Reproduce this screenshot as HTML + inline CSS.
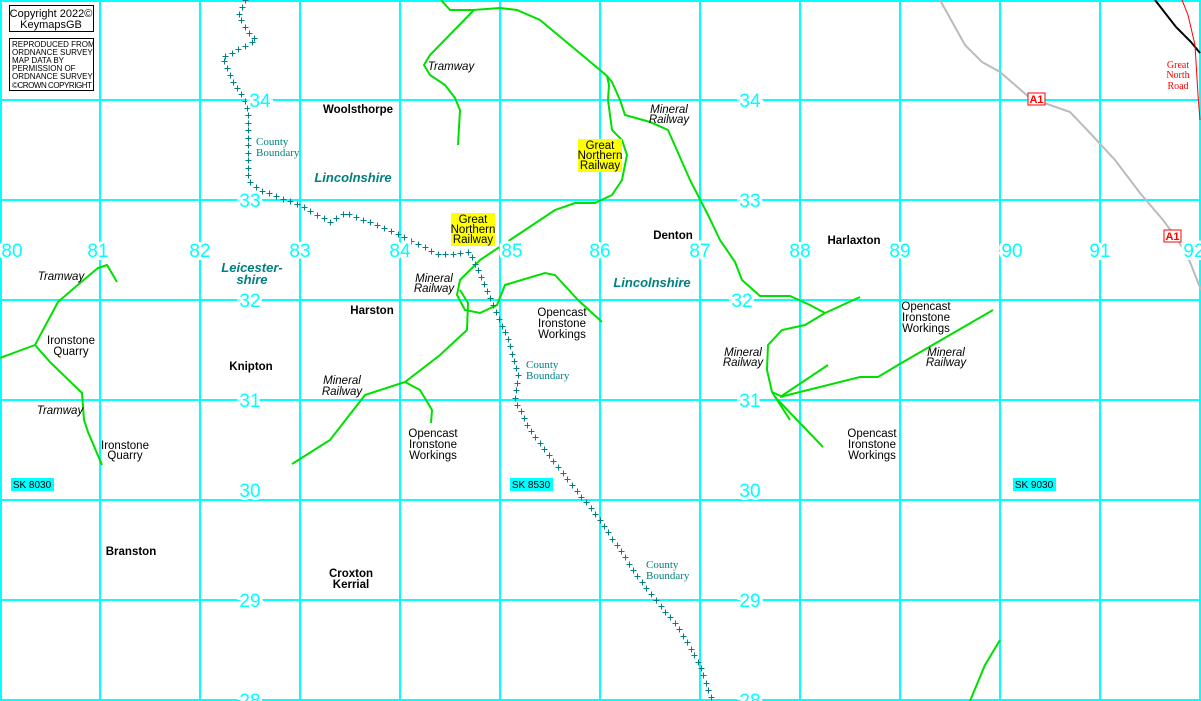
<!DOCTYPE html>
<html><head><meta charset="utf-8"><style>
html,body{margin:0;padding:0;background:#fff;overflow:hidden}
svg{display:block}
.n{font:19px "Liberation Sans",sans-serif;fill:#00ffff;text-anchor:middle;stroke:#fff;stroke-width:6;paint-order:stroke}
.g{fill:none;stroke:#00e000;stroke-width:2}
.t{font:11.5px "Liberation Sans",sans-serif;fill:#000;text-anchor:middle}
.i{font:italic 11.5px "Liberation Sans",sans-serif;fill:#000;text-anchor:middle}
.b{font:bold 11.5px "Liberation Sans",sans-serif;fill:#000;text-anchor:middle}
.c{font:bold italic 13px "Liberation Sans",sans-serif;fill:#008080;text-anchor:middle}
.cb{font:11px "Liberation Serif",serif;fill:#008080}
</style></head><body>
<svg id="s" width="1201" height="701" xmlns="http://www.w3.org/2000/svg">
<g stroke="#00ffff" stroke-width="2">
<line x1="1" y1="0" x2="1" y2="701"/><line x1="100" y1="0" x2="100" y2="701"/><line x1="200" y1="0" x2="200" y2="701"/><line x1="300" y1="0" x2="300" y2="701"/><line x1="400" y1="0" x2="400" y2="701"/><line x1="500" y1="0" x2="500" y2="701"/><line x1="600" y1="0" x2="600" y2="701"/><line x1="700" y1="0" x2="700" y2="701"/><line x1="800" y1="0" x2="800" y2="701"/><line x1="900" y1="0" x2="900" y2="701"/><line x1="1000" y1="0" x2="1000" y2="701"/><line x1="1100" y1="0" x2="1100" y2="701"/><line x1="1200" y1="0" x2="1200" y2="701"/>
<line x1="0" y1="1" x2="1201" y2="1"/><line x1="0" y1="100" x2="1201" y2="100"/><line x1="0" y1="200" x2="1201" y2="200"/><line x1="0" y1="300" x2="1201" y2="300"/><line x1="0" y1="400" x2="1201" y2="400"/><line x1="0" y1="500" x2="1201" y2="500"/><line x1="0" y1="600" x2="1201" y2="600"/><line x1="0" y1="700" x2="1201" y2="700"/>
</g>
<path d="M940,0 L965,45 L982,62 L1000,72 L1030,98 L1070,112 L1090,133 L1115,160 L1140,193 L1163,220 L1178,240 L1190,262 L1201,290" fill="none" stroke="#bbb" stroke-width="2"/>
<path d="M1155,0 L1176,27 L1191,42 L1200,53" fill="none" stroke="#000" stroke-width="2"/>
<path d="M1182,0 L1188,15 L1195,45 L1198,95 L1200,120" fill="none" stroke="#f00" stroke-width="1"/>
<rect x="1028" y="93" width="17" height="12" fill="#fff" stroke="#f00"/><text x="1036.5" y="103" font-family="Liberation Sans" font-weight="bold" font-size="11" fill="#f00" text-anchor="middle">A1</text>
<rect x="1164" y="230" width="17" height="12" fill="#fff" stroke="#f00"/><text x="1172.5" y="240" font-family="Liberation Sans" font-weight="bold" font-size="11" fill="#f00" text-anchor="middle">A1</text>
<text x="1178" y="68" font-family="Liberation Serif" font-size="10" fill="#f00" text-anchor="middle">Great</text>
<text x="1178" y="78" font-family="Liberation Serif" font-size="10" fill="#f00" text-anchor="middle">North</text>
<text x="1178" y="89" font-family="Liberation Serif" font-size="10" fill="#f00" text-anchor="middle">Road</text>
<path class="g" d="M441,0 L450,10 L473,10 L500,8 L517,10 L540,20 L600,70 L607,76 L612,82 L620,100 L625,115 L650,122 L668,130 L690,180 L708,215 L720,240 L735,262 L742,280 L760,296 L790,296 L810,305 L825,313 L860,297"/>
<path class="g" d="M474,10 L430,55 L424,65 L430,75 L445,85 L455,98 L460,110 L458,145"/>
<path class="g" d="M607,76 L609,85 L608,100 L612,130 L622,140 L627,155 L622,180 L612,195 L595,203 L575,203 L555,210 L510,240 L480,260 L460,280 L457,295 L465,310 L480,313 L497,305 L505,285 L545,273 L555,275 L578,300 L602,322"/>
<path class="g" d="M460,290 L468,303 L467,330 L440,355 L405,382 L365,395 L330,440 L292,464"/>
<path class="g" d="M405,382 L420,390 L432,410 L431,423"/>
<path class="g" d="M825,313 L805,325 L782,330 L768,345 L767,370 L772,392 L790,420"/>
<path class="g" d="M775,397 L823,447"/>
<path class="g" d="M780,397 L828,365"/>
<path class="g" d="M780,397 L860,377 L878,377 L898,365 L993,310"/>
<path class="g" d="M772,392 L783,397"/>
<path class="g" d="M117,282 L107,265 L98,268 L80,283 L58,302 L35,345 L0,358"/>
<path class="g" d="M35,345 L50,362 L82,393 L84,420 L88,432 L102,465"/>
<path class="g" d="M970,701 L985,665 L1000,640"/>
<polyline id="bd" points="245,0 238,15 250,35 256,40 222,58 232,80 245,100 248,110 248,180 260,190 300,205 330,222 345,212 400,235 440,255 470,252 480,275 495,310 510,345 518,375 515,400 530,430 560,470 600,520 620,550 640,580 680,630 700,665 712,701" fill="none" stroke="none"/>
<g id="cr" stroke="#008080" stroke-width="1"></g>
<text class="n" x="260" y="107">34</text><text class="n" x="750" y="107">34</text>
<text class="n" x="250" y="207">33</text><text class="n" x="750" y="207">33</text>
<text class="n" x="250" y="307">32</text><text class="n" x="742" y="307">32</text>
<text class="n" x="250" y="407">31</text><text class="n" x="750" y="407">31</text>
<text class="n" x="250" y="497">30</text><text class="n" x="750" y="497">30</text>
<text class="n" x="250" y="607">29</text><text class="n" x="750" y="607">29</text>
<text class="n" x="250" y="707">28</text><text class="n" x="750" y="707">28</text>
<text class="n" x="12" y="257">80</text><text class="n" x="98" y="257">81</text><text class="n" x="200" y="257">82</text><text class="n" x="300" y="257">83</text><text class="n" x="400" y="257">84</text><text class="n" x="512" y="257">85</text><text class="n" x="600" y="257">86</text><text class="n" x="700" y="257">87</text><text class="n" x="800" y="257">88</text><text class="n" x="900" y="257">89</text><text class="n" x="1012" y="257">90</text><text class="n" x="1100" y="257">91</text><text class="n" x="1194" y="257">92</text>
<rect x="9.5" y="5.5" width="84" height="26" fill="#fff" stroke="#000"/>
<text x="51" y="17" font-family="Liberation Sans" font-size="11" text-anchor="middle">Copyright 2022©</text>
<text x="51" y="28" font-family="Liberation Sans" font-size="11" text-anchor="middle">KeymapsGB</text>
<rect x="9.5" y="38.5" width="84" height="52" fill="#fff" stroke="#000"/>
<g font-family="Liberation Sans" font-size="8"><text x="12" y="47">REPRODUCED FROM</text><text x="12" y="55">ORDNANCE SURVEY</text><text x="12" y="63">MAP DATA BY</text><text x="12" y="71">PERMISSION OF</text><text x="12" y="79">ORDNANCE SURVEY</text><text x="12" y="88" textLength="80">©CROWN COPYRIGHT</text></g>
<text class="b" x="358" y="113">Woolsthorpe</text>
<text class="b" x="673" y="239">Denton</text>
<text class="b" x="854" y="244">Harlaxton</text>
<text class="b" x="372" y="314">Harston</text>
<text class="b" x="251" y="370">Knipton</text>
<text class="b" x="131" y="555">Branston</text>
<text class="b" x="351" y="577">Croxton</text><text class="b" x="351" y="588">Kerrial</text>
<text class="c" x="353" y="182">Lincolnshire</text>
<text class="c" x="652" y="287">Lincolnshire</text>
<text class="c" x="252" y="272">Leicester-</text><text class="c" x="252" y="284">shire</text>
<text class="cb" x="256" y="145">County</text><text class="cb" x="256" y="156">Boundary</text>
<text class="cb" x="526" y="368">County</text><text class="cb" x="526" y="379">Boundary</text>
<text class="cb" x="646" y="568">County</text><text class="cb" x="646" y="579">Boundary</text>
<text class="i" x="451" y="70">Tramway</text>
<text class="i" x="61" y="280">Tramway</text>
<text class="i" x="60" y="414">Tramway</text>
<text class="i" x="669" y="113">Mineral</text><text class="i" x="669" y="123">Railway</text>
<text class="i" x="434" y="282">Mineral</text><text class="i" x="434" y="292">Railway</text>
<text class="i" x="342" y="384">Mineral</text><text class="i" x="342" y="395">Railway</text>
<text class="i" x="743" y="356">Mineral</text><text class="i" x="743" y="366">Railway</text>
<text class="i" x="946" y="356">Mineral</text><text class="i" x="946" y="366">Railway</text>
<text class="t" x="71" y="344">Ironstone</text><text class="t" x="71" y="355">Quarry</text>
<text class="t" x="125" y="449">Ironstone</text><text class="t" x="125" y="459">Quarry</text>
<text class="t" x="562" y="316">Opencast</text><text class="t" x="562" y="327">Ironstone</text><text class="t" x="562" y="338">Workings</text>
<text class="t" x="433" y="437">Opencast</text><text class="t" x="433" y="448">Ironstone</text><text class="t" x="433" y="459">Workings</text>
<text class="t" x="926" y="310">Opencast</text><text class="t" x="926" y="321">Ironstone</text><text class="t" x="926" y="332">Workings</text>
<text class="t" x="872" y="437">Opencast</text><text class="t" x="872" y="448">Ironstone</text><text class="t" x="872" y="459">Workings</text>
<rect x="451" y="213" width="44" height="33" fill="#ff0"/>
<text class="t" x="473" y="223">Great</text><text class="t" x="473" y="233">Northern</text><text class="t" x="473" y="243">Railway</text>
<rect x="578" y="139" width="44" height="33" fill="#ff0"/>
<text class="t" x="600" y="149">Great</text><text class="t" x="600" y="159">Northern</text><text class="t" x="600" y="169">Railway</text>
<rect x="11" y="478" width="43" height="13" fill="#00ffff"/><text class="t" x="32" y="488" style="font-size:10px">SK 8030</text>
<rect x="510" y="478" width="43" height="13" fill="#00ffff"/><text class="t" x="531" y="488" style="font-size:10px">SK 8530</text>
<rect x="1013" y="478" width="43" height="13" fill="#00ffff"/><text class="t" x="1034" y="488" style="font-size:10px">SK 9030</text>
</svg>
<script>
var p=document.getElementById('bd'),g=document.getElementById('cr'),L=p.getTotalLength(),s='';
for(var d=0;d<=L;d+=7.5){var q=p.getPointAtLength(d),x=Math.round(q.x)+.5,y=Math.round(q.y)+.5;
s+='<line x1="'+(x-3)+'" y1="'+y+'" x2="'+(x+3)+'" y2="'+y+'"/><line x1="'+x+'" y1="'+(y-3)+'" x2="'+x+'" y2="'+(y+3)+'"/>';}
g.innerHTML=s;
</script>
</body></html>
